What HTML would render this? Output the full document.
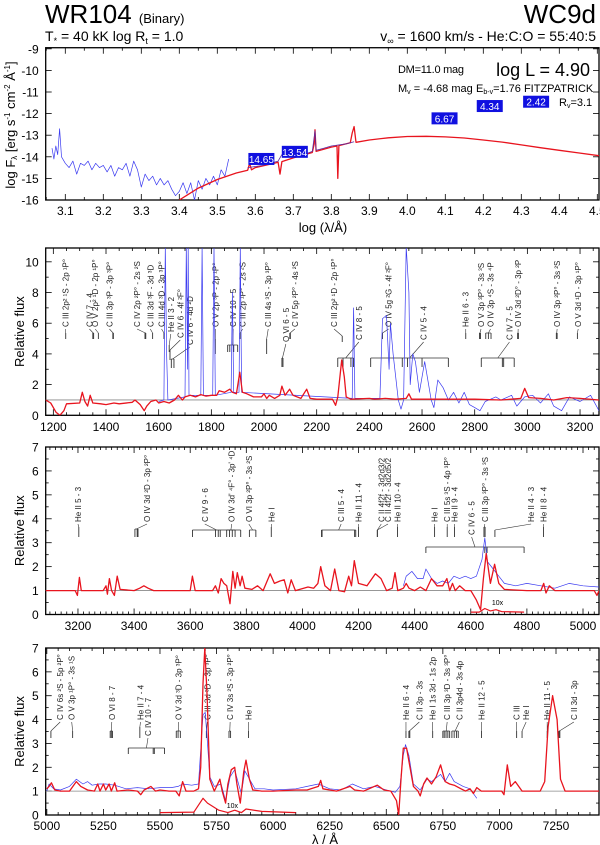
<!DOCTYPE html>
<html><head><meta charset="utf-8"><style>
body{margin:0;background:#fff}
svg{display:block;font-family:"Liberation Sans",sans-serif}
</style></head><body>
<svg id="chart" width="600" height="845" viewBox="0 0 600 845">
<text x="45" y="23" font-size="26">WR104 <tspan font-size="13">(Binary)</tspan></text>
<text x="45" y="41" font-size="14">T<tspan font-size="9" dy="3">*</tspan><tspan dy="-3"> =  40 kK   log R</tspan><tspan font-size="9" dy="3">t</tspan><tspan dy="-3"> = 1.0</tspan></text>
<text x="596" y="23" font-size="26" text-anchor="end">WC9d</text>
<text x="596" y="41" font-size="14" text-anchor="end">v<tspan font-size="9" dy="3">∞</tspan><tspan dy="-3"> = 1600 km/s - He:C:O = 55:40:5</tspan></text>
<g id="p1"></g>
<g id="p2"></g>
<g id="p3"></g>
<g id="p4"></g>
</svg>
<script>
// ---------- DATA ----------
const sedModelX=[3.40,3.45,3.50,3.55,3.58,3.585,3.59,3.60,3.65,3.66,3.665,3.67,3.70,3.75,3.755,3.757,3.76,3.80,3.815,3.817,3.82,3.85,3.855,3.86,3.865,3.90,3.95,4.00,4.05,4.10,4.15,4.20,4.25,4.30,4.35,4.40,4.45,4.515];
const sedModelY=[-16.0,-15.45,-15.05,-14.75,-14.62,-14.3,-14.6,-14.5,-14.3,-14.25,-14.8,-14.22,-14.05,-13.8,-13.4,-12.75,-13.75,-13.55,-13.5,-15.0,-13.48,-13.35,-12.9,-12.6,-13.33,-13.22,-13.12,-13.06,-13.05,-13.08,-13.13,-13.22,-13.32,-13.45,-13.58,-13.7,-13.82,-13.97];
const sedObsX=[3.065,3.07,3.075,3.08,3.085,3.09,3.10,3.11,3.12,3.13,3.14,3.15,3.16,3.17,3.18,3.19,3.20,3.21,3.22,3.23,3.24,3.25,3.26,3.27,3.28,3.29,3.30,3.31,3.32,3.33,3.34,3.35,3.36,3.37,3.38,3.39,3.40,3.41,3.42,3.43,3.44,3.45,3.46,3.47,3.48,3.49,3.50,3.51,3.52,3.53];
const sedObsY=[-13.6,-14.1,-13.5,-13.9,-12.7,-14.0,-14.3,-14.5,-14.2,-14.8,-14.3,-14.4,-14.2,-14.6,-14.3,-14.5,-14.4,-14.7,-14.4,-14.9,-14.5,-14.6,-14.3,-14.9,-14.2,-14.6,-15.4,-14.8,-15.1,-14.9,-15.3,-15.0,-15.3,-15.1,-15.5,-15.8,-15.6,-15.2,-15.7,-15.2,-16.0,-15.1,-15.5,-15.0,-15.3,-14.9,-15.3,-14.6,-14.9,-14.1];
const sedObs2X=[3.58,3.60,3.62,3.64,3.66,3.67,3.70,3.72,3.75,3.757,3.76,3.78,3.80,3.82,3.84,3.86];
const sedObs2Y=[-14.5,-14.45,-14.4,-14.3,-14.2,-13.9,-14.0,-13.95,-13.75,-12.8,-13.7,-13.6,-13.5,-13.45,-13.4,-13.3];
const photLabels=["14.65","13.54","6.67","4.34","2.42"];
const photX=[3.616,3.704,4.098,4.217,4.339];
const photY=[-14.1,-13.77,-12.22,-11.65,-11.45];

const uvModelX=[1171,1190,1210,1225,1240,1250,1300,1310,1320,1330,1340,1350,1380,1400,1430,1450,1500,1510,1530,1545,1555,1570,1590,1600,1620,1640,1660,1675,1690,1700,1720,1740,1760,1780,1800,1820,1830,1850,1870,1880,1895,1908,1918,1935,1960,1990,2000,2010,2020,2040,2060,2068,2080,2097,2110,2140,2162,2175,2200,2260,2272,2280,2295,2305,2312,2330,2400,2420,2460,2500,2540,2550,2560,2700,2800,2900,2975,2990,3005,3050,3100,3150,3200,3272];
const uvModelY=[1.0,0.8,0.2,0.0,0.3,0.75,0.8,1.5,0.9,0.6,1.3,0.8,0.75,0.7,0.8,0.75,0.85,1.0,0.7,0.3,0.6,0.9,1.0,0.8,0.9,0.8,1.0,1.3,1.0,1.2,1.3,1.2,1.35,1.25,1.3,1.3,1.6,1.5,1.7,1.5,1.4,2.8,1.5,1.4,1.2,1.2,1.4,1.1,1.3,1.1,1.3,1.9,1.3,1.7,1.3,1.1,1.7,1.1,1.05,1.05,0.65,1.2,3.6,2.5,1.2,1.05,1.1,1.05,1.1,1.05,1.1,1.4,1.05,1.05,1.05,1.0,1.1,1.75,1.15,1.1,1.0,1.15,1.1,1.0];
const uvObsX=[1600,1620,1625,1630,1635,1700,1705,1710,1712,1715,1760,1765,1770,1805,1810,1815,1875,1880,1885,1905,1910,1915,2335,2340,2345,2440,2450,2465,2475,2480,2490,2500,2510,2520,2530,2540,2550,2555,2565,2575,2590,2610,2620,2635,2645,2660,2680,2700,2720,2740,2760,2780,2800,2820,2840,2880,2900,2940,2960,2990,3020,3050,3080,3100,3130,3160,3200,3240,3272];
const uvObsY=[0.9,1.0,11,4,1.0,1.2,11,3,11,1.3,1.3,11,1.3,1.3,11,1.3,1.5,8,1.5,1.5,11,1.5,1.1,7,1.1,1.1,6.3,6.5,3,6,4,2.5,1.0,0.4,1.0,11,8,2,4,3.5,1.5,3.5,2.5,1.0,0.5,2.3,1.8,1.0,1.5,0.8,1.5,0.7,0.5,0.3,0.9,1.2,1.0,1.3,0.6,1.2,1.3,0.8,1.4,0.6,0.3,1.2,0.9,1.3,0.3];

const blModelX=[3085,3190,3198,3205,3212,3290,3300,3305,3312,3320,3330,3340,3350,3400,3420,3435,3450,3470,3600,3608,3618,3680,3690,3700,3710,3720,3730,3742,3752,3760,3768,3778,3785,3795,3820,3840,3860,3885,3900,3920,3935,3948,3960,3975,4020,4040,4055,4065,4080,4100,4115,4130,4150,4165,4175,4185,4200,4230,4260,4280,4300,4320,4330,4340,4360,4370,4380,4400,4420,4440,4460,4480,4500,4515,4525,4535,4545,4560,4580,4600,4620,4635,4645,4655,4670,4685,4700,4720,4800,4850,4860,4868,4880,4900,5040,5050,5057];
const blModelY=[1.0,1.0,0.8,1.55,1.0,1.0,1.2,0.85,1.5,1.0,0.8,1.6,1.05,1.0,1.1,1.2,1.1,1.0,1.0,1.6,1.0,1.0,1.2,0.9,1.5,1.3,1.2,0.45,1.8,1.1,1.75,1.2,1.6,1.1,1.05,1.2,1.0,1.7,1.3,1.4,1.45,0.9,1.45,1.0,1.15,1.1,1.3,2.0,1.2,1.0,1.9,1.0,0.95,1.6,1.2,2.25,1.3,1.2,1.7,1.5,1.0,1.1,1.75,1.0,1.1,1.3,1.1,1.0,1.15,1.0,1.5,1.2,1.2,1.5,1.0,1.3,1.0,1.2,1.0,1.0,0.6,0.2,1.5,2.55,1.3,2.1,1.3,1.05,1.0,1.0,1.3,0.9,1.2,1.0,1.0,0.8,1.0];
const blObsX=[4360,4370,4390,4410,4430,4440,4460,4480,4500,4520,4540,4560,4580,4600,4620,4640,4650,4660,4680,4700,4720,4760,4800,4850,4900,4950,5000,5057];
const blObsY=[1.2,1.6,1.8,1.5,1.5,1.9,1.5,1.3,1.4,1.3,1.6,1.5,1.6,1.5,1.6,2.3,3.2,2.2,1.9,1.6,1.3,1.2,1.3,1.2,1.1,1.3,1.2,1.15];
const blTenX=[4600,4630,4650,4670,4690,4710,4790];
const blTenY=[0.1,0.1,0.25,0.15,0.2,0.12,0.1];

const rdModelX=[5000,5010,5020,5035,5060,5100,5130,5150,5180,5210,5225,5235,5250,5260,5275,5285,5300,5310,5360,5400,5415,5430,5460,5480,5500,5540,5570,5585,5600,5615,5650,5670,5680,5690,5698,5708,5720,5740,5765,5775,5790,5800,5815,5830,5840,5855,5870,5880,5895,5910,5950,6000,6100,6150,6200,6210,6220,6280,6340,6360,6400,6460,6490,6520,6545,6555,6565,6575,6590,6605,6620,6640,6650,6665,6680,6700,6720,6740,6760,6780,6800,6830,6850,6870,6885,6900,6920,7010,7020,7035,7050,7070,7100,7180,7200,7215,7235,7255,7270,7290,7440];
const rdModelY=[1.1,1.2,1.35,1.05,1.0,1.0,1.4,1.2,1.05,1.0,1.3,1.0,1.3,1.05,1.3,1.0,1.35,1.0,1.05,1.0,0.85,1.05,1.2,1.0,1.05,1.0,1.0,0.8,1.4,1.0,1.0,1.1,2.0,5.5,7.0,5.0,1.5,1.0,1.5,1.0,0.5,1.3,1.9,2.0,1.3,0.5,1.8,2.3,1.5,1.05,1.0,1.0,1.05,1.05,1.2,1.45,1.1,1.0,1.2,1.05,1.0,1.25,1.05,1.0,0.6,0.0,1.5,2.8,2.8,2.0,1.2,1.0,0.8,1.3,1.55,1.3,1.6,2.1,1.4,1.3,1.25,1.1,1.0,1.1,0.9,1.15,1.0,1.0,0.85,2.1,1.2,1.4,1.0,1.0,1.4,3.7,5.0,4.0,1.5,1.0,1.0];
const rdObsX=[5000,5010,5030,5060,5100,5130,5160,5180,5200,5230,5260,5300,5350,5400,5450,5500,5550,5580,5600,5640,5670,5690,5700,5710,5720,5740,5770,5790,5810,5830,5850,5860,5875,5890,5920,5960,6000,6100,6150,6200,6250,6300,6350,6400,6450,6500,6540,6560,6575,6585,6600,6620,6650,6680,6700,6740,6760,6780,6800,6840,6870,6900];
const rdObsY=[1.0,1.3,1.1,1.05,1.2,1.5,1.3,1.4,1.25,1.3,1.3,1.25,1.1,1.15,1.1,1.15,1.15,1.2,1.3,1.25,1.3,4.2,4.3,3.0,1.6,1.2,1.3,0.6,1.6,1.9,1.2,0.9,1.85,1.6,1.1,1.1,1.05,1.1,1.2,1.3,1.1,1.05,1.3,1.1,1.2,1.05,0.95,1.2,2.5,2.95,2.5,1.3,1.05,1.5,1.4,1.7,1.4,1.75,1.4,1.2,1.1,0.7];
const rdTenX=[5500,5650,5690,5710,5760,5800,5830,5860,5880,5950,6100];
const rdTenY=[0.1,0.12,0.7,0.5,0.2,0.1,0.2,0.1,0.25,0.15,0.1];

const uvLabels=[
["C III 2p² ¹S - 2p ¹P°",1247,[1247],327,333,339],["C IV 7 - 4",1337,[1350,1353],327,333,339],
["O V 2p² ¹D - 2p ¹P°",1359,[1371],327,333,339],["C III 3p ³P - 3p ³P°",1413,[1426,1428],327,333,339],
["C IV 2p ²P° - 2s ²S",1518,[1548,1551],327,333,339],["C III 3d ³F - 3d ³D",1568,[1577],327,333,339],
["C III 4d ³D - 3p ³P°",1611,[1620],327,333,339],["He II 3 - 2",1646,[1640],332,345,352],
["C IV 6 - 4f ²F°",1682,[1643],338,350,360],["C IV 6 - 4d ²D",1718,[1648,1658],345,359,368],
["O V 2p ³P - 2p ¹P°",1815,[1815],327,339,354],["C IV 10 - 5",1883,[1862,1870,1885,1900],327,345,352],
["C III 2p ¹P° - 2s ²S",1919,[1909],327,333,339],["C III 4s ³S - 3p ³P°",2016,[2010],327,339,354],
["O VI 6 - 5",2083,[2068,2072],342,358,367],["C IV 5p ²P° - 4s ²S",2117,[2098,2100],327,333,339],
["C III 2p² ¹D - 2p ¹P°",2266,[2297],327,336,342],["C IV 8 - 5",2360,[2280,2300,2330,2340],340,358,367],
["O IV 5g ²G - 4f ²F°",2473,[2450],327,333,339],["C IV 5 - 4",2606,[2405,2525,2545,2600,2700],340,358,367],
["He II 6 - 3",2766,[2766],327,333,339],["O V 3p ³P° - 3s ³S",2824,[2818,2822],327,333,339],
["O IV 3p ⁴S - 3s ⁴P",2860,[2842,2852,2862],327,333,339],["C IV 7 - 5",2932,[2825,2905,2910,2950],340,358,367],
["O IV 3d ²D° - 3p ²P",2965,[2963,2966],327,333,339],["O IV 3p ²P° - 3s ²S",3113,[3110,3113],327,333,339],
["O V 3d ¹D - 3p ¹P°",3193,[3190],327,333,339]];
const blLabels=[
["He II 5 - 3",3200,[3203],522,527,537],["O IV 3d ²D - 3p ²P°",3446,[3403,3411,3414],522,529,537],
["C IV 9 - 6",3652,[3608,3690,3700,3707,3780],522,530,537],["O IV 3d' ⁴F° - 3p' ⁴D",3748,[3730,3740,3750,3760],522,530,537],
["O VI 3p ²P° - 3s ²S",3809,[3811,3834],522,530,537],["He I",3889,[3889],522,527,537],
["C III 5 - 4",4138,[4068,4070,4186,4190],522,530,537],["He II 11 - 4",4200,[4200],522,527,537],
["C II 4f2f - 3d2d3/2",4281,[4267],522,530,537],["C II 4f2f - 3d2d5/2",4305,[4267],522,530,537],
["He II 10 - 4",4339,[4339],522,527,537],["He I",4471,[4471],522,527,537],
["C III 5s ³S - 4p ³P°",4516,[4516],522,527,537],["He II 9 - 4",4542,[4542],522,527,537],
["C IV 6 - 5",4603,[4440,4650,4658,4790],535,547,553],["C III 3p ³P° - 3s ³S",4650,[4647,4651],522,527,537],
["He II 4 - 3",4815,[4686],522,530,537],["He II 8 - 4",4859,[4859],522,527,537]];
const rdLabels=[
["C IV 6s ²S - 5p ²P°",5059,[5018],720,731,738],["O V 3p ¹P° - 3s ¹S",5110,[5114],720,731,738],
["O VI 8 - 7",5287,[5280,5285,5290],720,731,738],["He II 7 - 4",5414,[5411],720,727,738],
["C IV 10 - 7",5447,[5360,5470,5475,5520],736,748,754],["O V 3d ³D - 3p ³P°",5582,[5572,5580,5590],720,731,738],
["C III 3d ³D - 3p ³P°",5709,[5705],720,731,738],["C IV 3s ²S - 3p ²P°",5810,[5805,5812],720,731,738],
["He I",5891,[5891],720,731,738],["He II 6 - 4",6587,[6587],720,731,738],
["C II 3p - 3s",6646,[6600,6604],720,731,738],["He I 1s 3d - 1s 2p",6705,[6705],720,731,738],
["C III 3p ³D - 3s ³P°",6769,[6750,6756,6764,6772,6780],720,731,738],["C II 3p4d - 3s 4p",6823,[6790,6800,6810,6818],720,731,738],
["He II 12 - 5",6921,[6921],720,731,738],["C III",7076,[7076],720,731,738],
["He I",7118,[7100],720,731,738],["He II 11 - 5",7211,[7211],720,731,738],
["C II 3d - 3p",7329,[7263,7267],720,731,738]];

// ---------- DRAW ----------
const NS="http://www.w3.org/2000/svg";
function mk(parent,tag,attrs){const e=document.createElementNS(NS,tag);for(const k in attrs)e.setAttribute(k,attrs[k]);parent.appendChild(e);return e;}
function scale(d0,d1,r0,r1){return v=>r0+(v-d0)*(r1-r0)/(d1-d0);}
const L=45.7,R=599;
function frame(g,sx,sy,xmin,xmax,ymin,ymax,xMaj,xMin,yMaj,yMin,xFmt,yFmt,labY){
  const y0=sy(ymin),y1=sy(ymax);
  const box=mk(g,'rect',{x:L,y:y1,width:R-L,height:y0-y1,fill:'none',stroke:'#000','stroke-width':1.3});
  
  
  for(let v=Math.ceil(xmin/xMin)*xMin;v<=xmax+1e-9;v+=xMin){
    const maj=Math.abs(v/xMaj-Math.round(v/xMaj))<1e-6;const x=sx(v),len=maj?6:3;
    mk(g,'line',{x1:x,x2:x,y1:y0,y2:y0-len,stroke:'#000','stroke-width':0.8});
    mk(g,'line',{x1:x,x2:x,y1:y1,y2:y1+len,stroke:'#000','stroke-width':0.8});
    if(maj){const t=mk(g,'text',{x:x,y:labY,'font-size':12,'text-anchor':'middle'});t.textContent=xFmt(v);
      
      }
  }
  for(let v=Math.ceil(ymin/yMin)*yMin;v<=ymax+1e-9;v+=yMin){
    const maj=Math.abs(v/yMaj-Math.round(v/yMaj))<1e-6;const y=sy(v),len=maj?6:3;
    mk(g,'line',{x1:L,x2:L+len,y1:y,y2:y,stroke:'#000','stroke-width':0.8});
    mk(g,'line',{x1:R,x2:R-len,y1:y,y2:y,stroke:'#000','stroke-width':0.8});
    if(maj){const t=mk(g,'text',{x:L-7,y:y+4.5,'font-size':12,'text-anchor':'end'});t.textContent=yFmt(v);
      
      }
  }
}
function line(g,xs,ys,sx,sy,color,w,name,clipId){
  const d=xs.map((x,i)=>(i?'L':'M')+sx(x).toFixed(1)+' '+sy(ys[i]).toFixed(1)).join(' ');
  const p=mk(g,'path',{d:d,fill:'none',stroke:color,'stroke-width':w,'stroke-linejoin':'round','clip-path':'url(#'+clipId+')'});
  
  
}
function clip(id,y1,y0){const defs=mk(document.getElementById('chart'),'defs',{});const c=mk(defs,'clipPath',{id:id});mk(c,'rect',{x:L,y:y1,width:R-L,height:y0-y1});}
function ylabel(g,txt,x,y){const t=mk(g,'text',{x:x,y:y,'font-size':13,'text-anchor':'middle',transform:'rotate(-90 '+x+' '+y+')'});t.textContent=txt;
  
  return t;}
function lineIds(g,labels,sx){
  labels.forEach(l=>{
    const [txt,tl,ticks,tb,tt,tbot]=l;const x=sx(tl);
    const t=mk(g,'text',{x:x+3,y:tb,'font-size':8,fill:'#222',transform:'rotate(-90 '+(x+3)+' '+tb+')'});t.textContent=txt;
    
    
    const xs=ticks.map(sx),mid=(Math.min(...xs)+Math.max(...xs))/2;
    mk(g,'line',{x1:x,y1:tb+2,x2:ticks.length>1?mid:xs[0],y2:tt,stroke:'#333','stroke-width':0.6});
    if(ticks.length>1)mk(g,'line',{x1:Math.min(...xs),x2:Math.max(...xs),y1:tt,y2:tt,stroke:'#333','stroke-width':0.7});
    xs.forEach(xx=>mk(g,'line',{x1:xx,x2:xx,y1:tt,y2:tbot,stroke:'#333','stroke-width':0.9}));
  });
}
const RED='#e8141e',BLUE='#3a3af0',GRAY='#888';

// Panel 1
(function(){
  const g=document.getElementById('p1');const sx=scale(3.1,4.5,65.3,597.3),sy=scale(-16,-9,200,48.8);
  clip('c1',sy(-8.95),200);
  frame(g,sx,sy,3.047,4.515,-16,-8.95,0.1,0.05,1,1,v=>v.toFixed(1),v=>String(v),215);
  line(g,sedObsX,sedObsY,sx,sy,BLUE,0.7,'observed-uv-sed','c1');
  line(g,sedModelX,sedModelY,sx,sy,RED,1.3,'model-sed','c1');
  line(g,sedObs2X,sedObs2Y,sx,sy,'#5a2aa0',0.8,'observed-optical-sed','c1');
  photLabels.forEach((s,i)=>{const x=sx(photX[i]),y=sy(photY[i]);
    const r=mk(g,'rect',{x:x-13,y:y-6,width:26,height:12,fill:'#1010e0'});
    
    
    const t=mk(g,'text',{x:x,y:y+4,'font-size':10,fill:'#fff','text-anchor':'middle'});t.textContent=s;
    
    });
  const info=[["DM=11.0 mag",398,73,11],["M",398,92,11],["E",476,92,11],["R",559,106,11]];
  let t=mk(g,'text',{x:398,y:73,'font-size':11,textLength:66});t.textContent='DM=11.0 mag';
  t=mk(g,'text',{x:398,y:92,'font-size':11});t.innerHTML='M<tspan font-size="7" dy="2">v</tspan><tspan dy="-2"> = -4.68 mag</tspan>';
  t=mk(g,'text',{x:476,y:92,'font-size':11});t.innerHTML='E<tspan font-size="7" dy="2">b-v</tspan><tspan dy="-2">=1.76  FITZPATRICK</tspan>';
  t=mk(g,'text',{x:559,y:106,'font-size':11});t.innerHTML='R<tspan font-size="7" dy="2">v</tspan><tspan dy="-2">=3.1</tspan>';
  t=mk(g,'text',{x:590,y:76,'font-size':18,'text-anchor':'end'});t.textContent='log L = 4.90';
  const yl=ylabel(g,'',15,125);yl.innerHTML='log F<tspan font-size="8" dy="2">λ</tspan><tspan dy="-2"> [erg s</tspan><tspan font-size="8" dy="-5">-1</tspan><tspan dy="5"> cm</tspan><tspan font-size="8" dy="-5">-2</tspan><tspan dy="5"> Å</tspan><tspan font-size="8" dy="-5">-1</tspan><tspan dy="5">]</tspan>';
  t=mk(g,'text',{x:323,y:232,'font-size':13,'text-anchor':'middle'});t.textContent='log (λ/Å)';
})();

function specPanel(id,cid,xmin,xmax,ymax,top,bot,xMaj,xMin,yMaj,yMin,labY,modelX,modelY,obsX,obsY,tenX,tenY,labels,tenPos){
  const g=document.getElementById(id);const sx=scale(xmin,xmax,L,R),sy=scale(0,ymax,bot,top);
  clip(cid,top,bot);
  frame(g,sx,sy,xmin,xmax,0,ymax,xMaj,xMin,yMaj,yMin,v=>String(Math.round(v)),v=>String(Math.round(v)),labY);
  const c=mk(g,'line',{x1:L,x2:R,y1:sy(1),y2:sy(1),stroke:GRAY,'stroke-width':0.8});
  
  
  lineIds(g,labels,sx);
  line(g,obsX,obsY,sx,sy,BLUE,0.7,'observed-spectrum',cid);
  line(g,modelX,modelY,sx,sy,RED,1.3,'model-spectrum',cid);
  if(tenX){line(g,tenX,tenY,sx,sy,RED,1.2,'model-10x-curve',cid);
    const t=mk(g,'text',{x:sx(tenPos[0]),y:sy(tenPos[1]),'font-size':7});t.textContent='10x';
    
    }
  ylabel(g,'Relative flux',24,(top+bot)/2);
  return sx;
}
specPanel('p2','c2',1171,3272,10.9,248,415.3,200,50,2,1,431,uvModelX,uvModelY,uvObsX,uvObsY,null,null,uvLabels);
specPanel('p3','c3',3085,5057,7,447,614.5,200,20,1,0.5,630,blModelX,blModelY,blObsX,blObsY,blTenX,blTenY,blLabels,[4675,0.4]);
specPanel('p4','c4',4995,7440,7,648,815,250,50,1,0.5,830,rdModelX,rdModelY,rdObsX,rdObsY,rdTenX,rdTenY,rdLabels,[5795,0.3]);
const xt=mk(document.getElementById('p4'),'text',{x:325,y:844,'font-size':13,'text-anchor':'middle'});xt.textContent='λ / Å';


</script>
</body></html>
